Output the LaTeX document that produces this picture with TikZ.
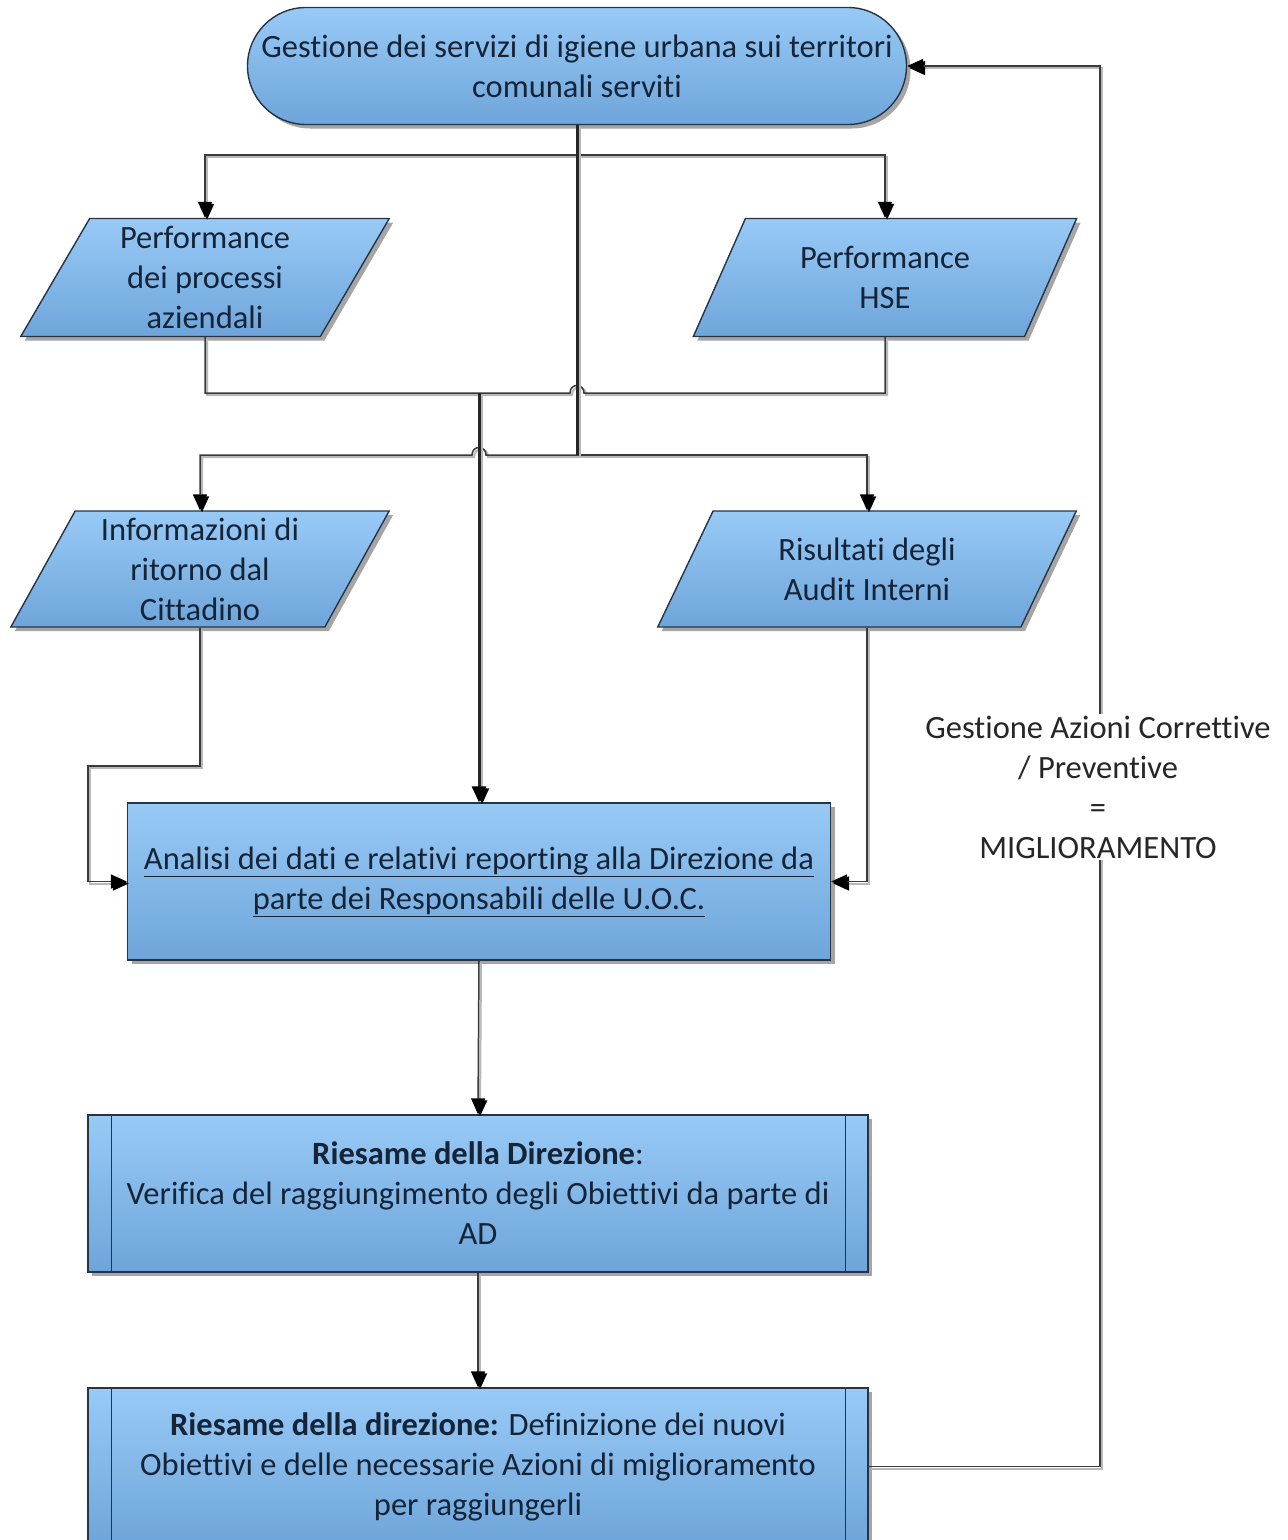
\documentclass[tikz,border=0pt]{standalone}
\usepackage{fontspec}
\setmainfont{Carlito}[Ligatures={NoCommon}]
\usetikzlibrary{shapes.geometric,shapes.misc,arrows.meta,shadows}
\definecolor{boxtop}{RGB}{152,202,246}
\definecolor{boxbot}{RGB}{110,165,218}
\definecolor{boxedge}{RGB}{38,52,68}
\definecolor{txt}{RGB}{22,36,56}
\definecolor{lin}{RGB}{58,58,58}
\tikzset{
  base/.style={draw=boxedge, line width=1.4pt, top color=boxtop, bottom color=boxbot,
    drop shadow={shadow xshift=4pt, shadow yshift=-4pt, fill=black!70, opacity=0.5},
    text=txt, align=center, inner sep=2pt, font=\fontsize{32.5}{40}\selectfont},
  term/.style={base, rounded rectangle, minimum width=663pt, minimum height=117pt},
  para/.style={base, trapezium, trapezium left angle=64, trapezium right angle=116,
    trapezium stretches=true, minimum height=118pt},
  proc/.style={base, rectangle, minimum width=780pt, minimum height=157pt},
  conn/.style={draw=lin, line width=1.5pt,
    preaction={draw=black!28, line width=2pt, transform canvas={shift={(2pt,-2pt)}}}},
  thickc/.style={draw=black!85, line width=3pt,
    preaction={draw=black!28, line width=2pt, transform canvas={shift={(3pt,-2pt)}}}},
  tip/.style={-{Triangle[length=16pt,width=14pt,fill=black,color=black]}},
  lbl/.style={fill=white, text=black!85, align=center, inner sep=2pt,
    font=\fontsize{32.5}{40}\selectfont}
}
\begin{document}
\begin{tikzpicture}[x=1pt,y=-1pt]
\useasboundingbox[fill=white] (0,0) rectangle (1288,1540);

% nodes
\node[term] (t) at (577,66) {Gestione dei servizi di igiene urbana sui territori\\comunali serviti};
\node[para, minimum width=370pt] (p1) at (205,277.5) {Performance\\dei processi\\aziendali};
\node[para, minimum width=384pt] (p2) at (885,277.5) {Performance\\HSE};
\node[para, minimum width=380pt, minimum height=116pt] (p3) at (200,569) {Informazioni di\\ritorno dal\\Cittadino};
\node[para, minimum width=420pt, minimum height=116pt] (p4) at (867,569) {Risultati degli\\Audit Interni};
\node[base, rectangle, minimum width=703pt, minimum height=157pt] (a) at (479,881.5)
  {\underline{Analisi dei dati e relativi reporting alla Direzione da}\\\underline{parte dei Responsabili delle U.O.C.}};
\node[proc] (r1) at (478,1193.5) {\textbf{Riesame della Direzione}:\\Verifica del raggiungimento degli Obiettivi da parte di\\AD};
\node[proc] (r2) at (478,1466.5) {\textbf{Riesame della direzione:} Definizione dei nuovi\\Obiettivi e delle necessarie Azioni di miglioramento\\per raggiungerli};

% predefined-process side bars
\foreach \n in {r1,r2}{
  \draw[boxedge, line width=1.4pt] ([xshift=24pt]\n.north west) -- ([xshift=24pt]\n.south west);
  \draw[boxedge, line width=1.4pt] ([xshift=-23pt]\n.north east) -- ([xshift=-23pt]\n.south east);
}

% junction coordinates
\coordinate (j1) at (577,155);
\coordinate (j3) at (577,455);
\coordinate (j4) at (479,393);
\coordinate (hA) at (570,393);
\coordinate (hB) at (486,455);
\coordinate (k1) at (88,766);
\coordinate (k2) at (1100,66);

% connectors
\draw[conn,tip] (j1) -| (p1.center |- p1.north);
\draw[conn,tip] (j1) -| (p2.center |- p2.north);
\draw[conn] (p1.center |- p1.south) |- (hA) .. controls (570,383) and (584,383) .. (584,393) -| (p2.center |- p2.south);
\draw[conn,tip] (j3) -- (hB) .. controls (486,445) and (472,445) .. (472,455) -| (p3.center |- p3.north);
\draw[conn,tip] (j3) -| (p4.center |- p4.north);
\draw[thickc] (t.south) -- (j3);
\draw[thickc,tip] (j4) -- (a.north);
\draw[conn,tip] (p3.center |- p3.south) |- (k1) |- (a.west);
\draw[conn,tip] (p4.center |- p4.south) |- (a.east);
\draw[conn,tip] (a.south) -- (r1.north);
\draw[conn,tip] (r1.south) -- (r2.north);
\draw[conn,tip] (r2.east) -| (k2) -- (t.east);

\node[lbl] (g) at (1098,787) {Gestione Azioni Correttive\\/ Preventive\\=\\MIGLIORAMENTO};
\end{tikzpicture}
\end{document}
